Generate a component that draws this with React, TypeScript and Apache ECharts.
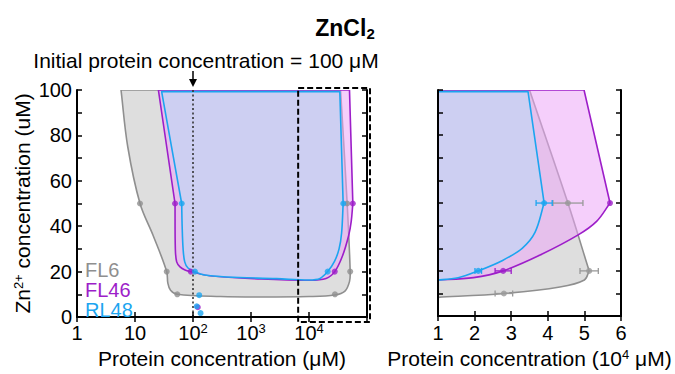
import React, { useEffect, useRef } from 'react';
import * as echarts from 'echarts';

const FONT = '"Liberation Sans", Arial, Helvetica, sans-serif';
const GRAY = '#8f8f8f';
const PURPLE = '#9d1ec9';
const BLUE = '#1ca5f0';
const GRAY_FILL = 'rgba(160,160,160,0.35)';
const PURPLE_FILL = 'rgba(237,167,248,0.54)';
const BLUE_FILL = 'rgba(189,217,247,0.6)';

// ---- measured points (x in µM for the log panel, x in 10^4 µM for the zoom panel; y = Zn2+ µM)
const FL6_lowX = [12.2, 35.2, 53.6];
const FL6_lowY = [50, 20, 10];
const FL6_highX = [4.55, 5.13, 2.8];
const FL6_highErr = [0.41, 0.25, 0.24];
const FL6_highY = [50, 20, 10];

const FL46_lowX = [49, 91.3];
const FL46_lowY = [50, 20];
const FL46_highX = [5.7, 2.78];
const FL46_highErr = [0, 0.22];
const FL46_highY = [50, 20];

const RL48_lowX = [63.8, 108];
const RL48_lowY = [50, 20];
const RL48_highX = [3.9, 2.1];
const RL48_highErr = [0.22, 0.09];
const RL48_highY = [50, 20];

const FL46_extraX = [121];
const FL46_extraY = [4.3];
const RL48_extraX = [128, 116, 135];
const RL48_extraY = [9.6, 4.7, 1.7];

// ---- phase-boundary outlines: [x, y, corner?]
const FL6_outlineLog = [[5.74, 100, 1], [7.5, 75], [12.2, 50], [20.7, 35.7], [35.2, 20], [36.8, 15], [41, 11.8], [53.6, 10], [300, 9.0], [1430, 8.8], [10000, 9.0], [28000, 9.7], [41700, 11.4], [50000, 15.7], [51300, 20], [45500, 50], [35000, 100, 1]];
const FL46_outlineLog = [[25.3, 100, 1], [49, 50, 1], [49.6, 30], [52.3, 24.3], [59.7, 22.1], [72.8, 20.7], [91.3, 20], [195, 18.2], [1430, 16.8], [10000, 16.2], [19700, 17], [27800, 20], [37900, 27], [48300, 35.9], [53400, 42], [57000, 50, 1], [49900, 100, 1]];
const RL48_outlineLog = [[28.8, 99.3, 1], [63.8, 50, 1], [65, 40], [67.5, 30], [72, 24.3], [82, 21.6], [108, 20], [151, 18.6], [380, 17.6], [2760, 16.9], [10000, 16.3], [15500, 17], [21000, 20], [27500, 24.5], [33000, 30], [36500, 37], [38800, 50, 1], [34000, 99.3, 1]];

const FL6_outlineLin = [[0.8, 100, 1], [0.8, 8.2, 1], [1, 8.3], [2.8, 10], [4.33, 12.9], [5.0, 16], [5.13, 20, 1], [4.55, 50], [3.5, 100, 1]];
const FL46_outlineLin = [[0.8, 100, 1], [0.8, 16, 1], [1, 16], [1.97, 17], [2.78, 20], [3.79, 27], [4.83, 35.9], [5.34, 42], [5.7, 50, 1], [4.99, 100, 1]];
const RL48_outlineLin = [[0.8, 99.3, 1], [0.8, 16, 1], [1, 16], [1.55, 17], [2.1, 20], [2.75, 24.5], [3.3, 30], [3.65, 37], [3.9, 50, 1], [3.46, 99.3, 1]];

const zoomBoxX = [6500, 100000];
const zoomBoxY = [0, 100];
const initialProtein = 100;

const LEGEND = [
  { name: 'FL6', color: GRAY },
  { name: 'FL46', color: PURPLE },
  { name: 'RL48', color: BLUE },
];

function zip(xs: number[], ys: number[], k = 1) {
  return xs.map((x, i) => [x * k, ys[i]]);
}

function outline(pts: number[][], gi: number, stroke: string, fill: string, z: number) {
  const mid = pts[Math.floor(pts.length / 2)];
  return {
    type: 'custom',
    xAxisIndex: gi === 0 ? 0 : 2,
    yAxisIndex: gi === 0 ? 0 : 2,
    clip: true,
    silent: true,
    z,
    data: [[mid[0], mid[1]]],
    renderItem: (_p: any, api: any) => {
      const points: number[][] = [];
      pts.forEach((p) => {
        const c = api.coord([p[0], p[1]]);
        points.push(c);
        if (p[2]) points.push([c[0], c[1]]);
      });
      return {
        type: 'polygon',
        shape: { points, smooth: 0.35 },
        style: { fill, stroke, lineWidth: 1.6, lineJoin: 'round' },
      };
    },
  };
}

function errorBars(xs: number[], ys: number[], es: number[], color: string) {
  return {
    type: 'custom',
    xAxisIndex: 2,
    yAxisIndex: 2,
    silent: true,
    z: 5,
    data: xs.map((x, i) => [x, ys[i], es[i]]),
    renderItem: (_p: any, api: any) => {
      const x = api.value(0);
      const y = api.value(1);
      const e = api.value(2);
      if (!e) return null;
      const a = api.coord([x - e, y]);
      const b = api.coord([x + e, y]);
      const st = { stroke: color, lineWidth: 1.3 };
      return {
        type: 'group',
        children: [
          { type: 'line', shape: { x1: a[0], y1: a[1], x2: b[0], y2: b[1] }, style: st },
          { type: 'line', shape: { x1: a[0], y1: a[1] - 3, x2: a[0], y2: a[1] + 3 }, style: st },
          { type: 'line', shape: { x1: b[0], y1: b[1] - 3, x2: b[0], y2: b[1] + 3 }, style: st },
        ],
      };
    },
  };
}

function markers(data: number[][], gi: number, color: string, extra: any = {}) {
  return {
    type: 'scatter',
    xAxisIndex: gi === 0 ? 0 : 2,
    yAxisIndex: gi === 0 ? 0 : 2,
    symbol: 'circle',
    symbolSize: 6,
    silent: true,
    z: 6,
    itemStyle: { color },
    data,
    ...extra,
  };
}

function logLabel(v: number) {
  const p = Math.round(Math.log10(v));
  if (p === 0) return '{n|1}';
  if (p === 1) return '{n|10}';
  if (p >= 5) return '';
  return `{n|10}{s|${p}}`;
}

const tickStyle = { show: true, inside: true, length: 5, lineStyle: { color: '#000', width: 1.5 } };
const lineStyle = { show: true, lineStyle: { color: '#000', width: 2 } };
const labelRich = {
  n: { fontSize: 20, fontFamily: FONT, color: '#000', lineHeight: 22 },
  s: { fontSize: 13, fontFamily: FONT, color: '#000', verticalAlign: 'top', lineHeight: 13 },
};

export default function App() {
  const ref = useRef<HTMLDivElement>(null);
  useEffect(() => {
    if (!ref.current) return;
    const chart = echarts.init(ref.current, undefined, { renderer: 'svg' });
    const option: any = {
      animation: false,
      backgroundColor: '#fff',
      textStyle: { fontFamily: FONT },
      grid: [
        { left: 77, top: 90, width: 290, height: 233 },
        { left: 438, top: 90, width: 183, height: 233 },
      ],
      xAxis: [
        {
          gridIndex: 0, type: 'log', logBase: 10, min: 1, max: 100000, position: 'bottom', z: 10,
          axisLine: lineStyle, axisTick: tickStyle, splitLine: { show: false },
          axisLabel: { formatter: logLabel, rich: labelRich, margin: 5, fontSize: 20, color: '#000' },
          name: 'Protein concentration (μM)', nameLocation: 'middle', nameGap: 31,
          nameTextStyle: { fontSize: 21, color: '#000', fontFamily: FONT },
        },
        {
          gridIndex: 0, type: 'log', logBase: 10, min: 1, max: 100000, position: 'top', z: 10,
          axisLine: lineStyle, axisTick: tickStyle, axisLabel: { show: false }, splitLine: { show: false },
        },
        {
          gridIndex: 1, type: 'value', min: 1, max: 6, interval: 1, position: 'bottom', z: 10,
          axisLine: lineStyle, axisTick: tickStyle, splitLine: { show: false },
          axisLabel: { margin: 7, fontSize: 20, color: '#000', fontFamily: FONT },
          name: 'Protein concentration (10{s|4} μM)', nameLocation: 'middle', nameGap: 29,
          nameTextStyle: {
            fontSize: 21, color: '#000', fontFamily: FONT,
            rich: { s: { fontSize: 13, fontFamily: FONT, color: '#000', verticalAlign: 'top', lineHeight: 13 } },
          },
        },
        {
          gridIndex: 1, type: 'value', min: 1, max: 6, interval: 1, position: 'top', z: 10,
          axisLine: lineStyle, axisTick: tickStyle, axisLabel: { show: false }, splitLine: { show: false },
        },
      ],
      yAxis: [
        {
          gridIndex: 0, type: 'value', min: 0, max: 100, interval: 10, position: 'left', z: 10,
          axisLine: lineStyle, axisTick: tickStyle, splitLine: { show: false },
          axisLabel: { formatter: (v: number) => (v % 20 === 0 ? String(v) : ''), margin: 5, fontSize: 20, color: '#000', fontFamily: FONT },
          name: 'Zn{s|2+} concentration (uM)', nameLocation: 'middle', nameGap: 44,
          nameTextStyle: {
            fontSize: 21, color: '#000', fontFamily: FONT,
            rich: { s: { fontSize: 13, fontFamily: FONT, color: '#000', verticalAlign: 'top', lineHeight: 13 } },
          },
        },
        {
          gridIndex: 0, type: 'value', min: 0, max: 100, interval: 10, position: 'right', z: 10,
          axisLine: lineStyle, axisTick: tickStyle, axisLabel: { show: false }, splitLine: { show: false },
        },
        {
          gridIndex: 1, type: 'value', min: 0, max: 100, interval: 10, position: 'left', z: 10,
          axisLine: lineStyle, axisTick: tickStyle, axisLabel: { show: false }, splitLine: { show: false },
        },
        {
          gridIndex: 1, type: 'value', min: 0, max: 100, interval: 10, position: 'right', z: 10,
          axisLine: lineStyle, axisTick: tickStyle, axisLabel: { show: false }, splitLine: { show: false },
        },
      ],
      series: [
        outline(FL6_outlineLog, 0, GRAY, GRAY_FILL, 2),
        outline(FL46_outlineLog, 0, PURPLE, PURPLE_FILL, 3),
        outline(RL48_outlineLog, 0, BLUE, BLUE_FILL, 4),
        outline(FL6_outlineLin, 1, GRAY, GRAY_FILL, 2),
        outline(FL46_outlineLin, 1, PURPLE, PURPLE_FILL, 3),
        outline(RL48_outlineLin, 1, BLUE, BLUE_FILL, 4),
        markers([...zip(FL6_lowX, FL6_lowY), ...zip(FL6_highX, FL6_highY, 1e4)], 0, GRAY, {
          markLine: {
            silent: true, symbol: 'none', label: { show: false },
            lineStyle: { color: '#333', width: 1.6, type: [2, 2.5] },
            data: [{ xAxis: initialProtein }],
          },
        }),
        markers([...zip(FL46_lowX, FL46_lowY), ...zip(FL46_highX, FL46_highY, 1e4), ...zip(FL46_extraX, FL46_extraY)], 0, PURPLE),
        markers([...zip(RL48_lowX, RL48_lowY), ...zip(RL48_highX, RL48_highY, 1e4), ...zip(RL48_extraX, RL48_extraY)], 0, BLUE),
        errorBars(FL6_highX, FL6_highY, FL6_highErr, '#999'),
        errorBars(FL46_highX, FL46_highY, FL46_highErr, PURPLE),
        errorBars(RL48_highX, RL48_highY, RL48_highErr, BLUE),
        markers(zip(FL6_highX, FL6_highY), 1, '#999'),
        markers(zip(FL46_highX, FL46_highY), 1, PURPLE),
        markers(zip(RL48_highX, RL48_highY), 1, BLUE),
      ],
    };
    chart.setOption(option);

    const finder = { xAxisIndex: 0, yAxisIndex: 0 };
    const p0 = chart.convertToPixel(finder, [zoomBoxX[0], zoomBoxY[1]]) as number[];
    const p1 = chart.convertToPixel(finder, [zoomBoxX[1], zoomBoxY[0]]) as number[];
    const ax = (chart.convertToPixel(finder, [initialProtein, 100]) as number[])[0];

    const graphic: any[] = [
      {
        type: 'text', z: 20, style: {
          text: '{b|ZnCl}{s|2}', x: 345, y: 28, align: 'center', verticalAlign: 'middle',
          rich: {
            b: { fontSize: 23, fontWeight: 'bold', fontFamily: FONT, fill: '#000', lineHeight: 26 },
            s: { fontSize: 15, fontWeight: 'bold', fontFamily: FONT, fill: '#000', verticalAlign: 'bottom', lineHeight: 14, padding: [0, 0, 0, 0] },
          },
        },
      },
      {
        type: 'text', z: 20, style: {
          text: 'Initial protein concentration = 100 μM', x: 206, y: 60, align: 'center', verticalAlign: 'middle',
          fontSize: 21, fontFamily: FONT, fill: '#000',
        },
      },
      { type: 'line', z: 20, shape: { x1: ax, y1: 71, x2: ax, y2: 81 }, style: { stroke: '#000', lineWidth: 1.5 } },
      { type: 'polygon', z: 20, shape: { points: [[ax - 4, 79], [ax + 4, 79], [ax, 87]] }, style: { fill: '#000' } },
      {
        type: 'rect', z: 20,
        shape: { x: p0[0], y: p0[1] - 2, width: p1[0] + 3 - p0[0], height: p1[1] + 5 - (p0[1] - 2) },
        style: { fill: 'none', stroke: '#000', lineWidth: 2, lineDash: [6, 3] },
      },
      ...LEGEND.map((l, i) => ({
        type: 'text', z: 20, style: {
          text: l.name, x: 85, y: 270 + i * 20, verticalAlign: 'middle', fontSize: 20, fontFamily: FONT, fill: l.color,
        },
      })),
    ];
    chart.setOption({ graphic });
    return () => chart.dispose();
  }, []);
  return <div ref={ref} style={{ position: 'fixed', left: 0, top: 0, width: 675, height: 374, background: '#fff' }} />;
}
